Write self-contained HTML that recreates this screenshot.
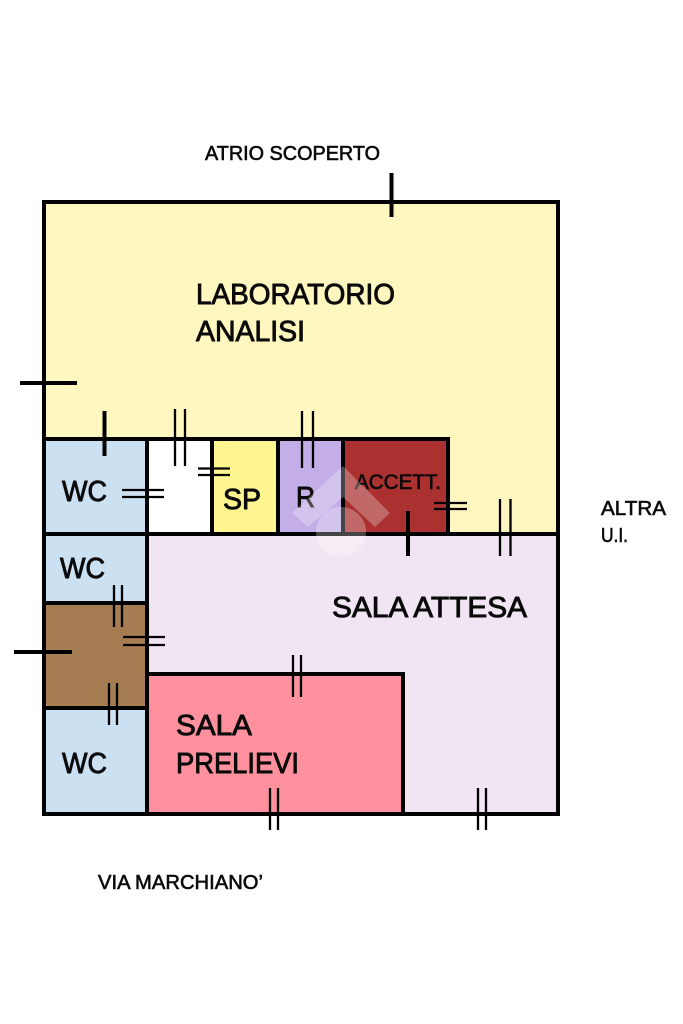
<!DOCTYPE html>
<html>
<head>
<meta charset="utf-8">
<style>
html,body{margin:0;padding:0;background:#fff;}
svg{display:block;}
text{font-family:"Liberation Sans",sans-serif;fill:#0a0a0a;stroke:#0a0a0a;stroke-width:.9px;}
text.s{stroke-width:.6px;}
</style>
</head>
<body>
<svg width="683" height="1024" viewBox="0 0 683 1024" xmlns="http://www.w3.org/2000/svg">
<rect width="683" height="1024" fill="#fff"/>
<!-- fills -->
<rect x="44" y="202" width="514" height="332" fill="#FEF7C0"/>
<rect x="147" y="534" width="411" height="280" fill="#F1E5F3"/>
<rect x="44" y="439" width="103" height="95" fill="#CBE0F1"/>
<rect x="147" y="439" width="65" height="95" fill="#fff"/>
<rect x="212" y="439" width="66" height="95" fill="#FEF590"/>
<rect x="278" y="439" width="65" height="95" fill="#C3AEE8"/>
<rect x="343" y="439" width="105" height="95" fill="#AB3030"/>
<rect x="44" y="534" width="103" height="69" fill="#CBE0F1"/>
<rect x="44" y="603" width="103" height="105" fill="#A67C52"/>
<rect x="44" y="708" width="103" height="106" fill="#CBE0F1"/>
<rect x="147" y="674" width="256" height="140" fill="#FF919E"/>
<!-- walls -->
<g stroke="#000" stroke-width="4" fill="none" stroke-linecap="square">
<rect x="44" y="202" width="514" height="612"/>
<path d="M44 439H448V534M44 534H558M147 439V814M212 439V534M278 439V534M343 439V534M44 603H147M44 708H147M147 674H403V814"/>
</g>
<!-- thick ticks -->
<g stroke="#000" stroke-width="4" fill="none">
<path d="M391.500 173V217M20 383H77M104.500 411V456M408 511V556M14 652H72"/>
</g>
<!-- double ticks -->
<g stroke="#000" stroke-width="2.300" fill="none">
<path d="M175 409V466M185 409V466"/>
<path d="M198 468.500H230M198 475H230"/>
<path d="M122 490H164M122 497H164"/>
<path d="M114 585V627M122 585V627"/>
<path d="M302 411V468M313 411V468"/>
<path d="M434 503H467M434 509H467"/>
<path d="M500 499V556M510.500 499V556"/>
<path d="M123 637H165M123 645H165"/>
<path d="M109 683V725M117 683V725"/>
<path d="M293 655V697M301 655V697"/>
<path d="M270 788V830M278 788V830"/>
<path d="M478 788V830M486 788V830"/>
</g>
<!-- labels -->
<text class="s" x="205" y="160" font-size="20" textLength="175" lengthAdjust="spacingAndGlyphs">ATRIO SCOPERTO</text>
<text x="196" y="304" font-size="29" textLength="199" lengthAdjust="spacingAndGlyphs">LABORATORIO</text>
<text x="196" y="341" font-size="29" textLength="109" lengthAdjust="spacingAndGlyphs">ANALISI</text>
<text x="62" y="501" font-size="29" textLength="45" lengthAdjust="spacingAndGlyphs">WC</text>
<text x="60" y="578" font-size="29" textLength="45" lengthAdjust="spacingAndGlyphs">WC</text>
<text x="62" y="773" font-size="29" textLength="45" lengthAdjust="spacingAndGlyphs">WC</text>
<text x="223" y="509" font-size="29" textLength="38" lengthAdjust="spacingAndGlyphs">SP</text>
<text x="296" y="507" font-size="29" textLength="19" lengthAdjust="spacingAndGlyphs">R</text>
<text class="s" x="355" y="489" font-size="21" textLength="86" lengthAdjust="spacingAndGlyphs">ACCETT.</text>
<text x="332" y="617" font-size="29" textLength="195" lengthAdjust="spacingAndGlyphs">SALA ATTESA</text>
<text x="176" y="735" font-size="29" textLength="76" lengthAdjust="spacingAndGlyphs">SALA</text>
<text x="176" y="773" font-size="29" textLength="123" lengthAdjust="spacingAndGlyphs">PRELIEVI</text>
<text class="s" x="98" y="889" font-size="20" textLength="165" lengthAdjust="spacingAndGlyphs">VIA MARCHIANO’</text>
<text class="s" x="601" y="515" font-size="20" textLength="65" lengthAdjust="spacingAndGlyphs">ALTRA</text>
<text class="s" x="601" y="542" font-size="20" textLength="27" lengthAdjust="spacingAndGlyphs">U.I.</text>
<!-- watermark -->
<g fill="#fff" fill-opacity=".27">
<path d="M343 466L390 513L375 527L343 497L308 527L292 513Z"/>
<circle cx="341" cy="532" r="25"/>
</g>
</svg>
</body>
</html>
